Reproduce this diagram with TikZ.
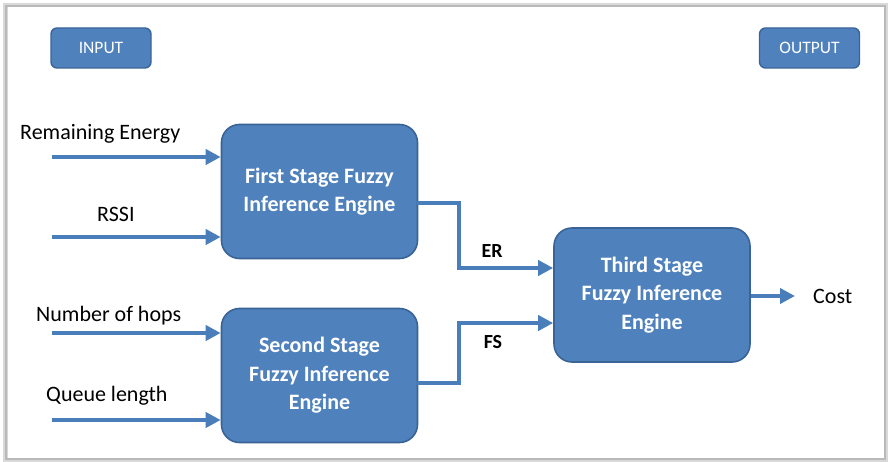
\documentclass[tikz,border=0pt]{standalone}
\usepackage{fontspec}
\setmainfont{Carlito}
\usetikzlibrary{arrows.meta}
\definecolor{boxfill}{HTML}{4F81BD}
\definecolor{boxedge}{HTML}{3A6496}
\definecolor{flow}{HTML}{4A7EBB}
\tikzset{
  engine/.style={draw=boxedge, line width=1.6pt, fill=boxfill, rounded corners=18pt,
    minimum width=196pt, minimum height=134pt, text=white, align=center,
    font=\fontsize{22}{28.5}\selectfont\bfseries},
  tag/.style={draw=boxedge, line width=1.4pt, fill=boxfill, rounded corners=6pt,
    minimum width=100pt, minimum height=40pt, text=white,
    font=\fontsize{17.5}{20}\selectfont},
  lbl/.style={font=\fontsize{22}{26}\selectfont, inner sep=0pt},
  sig/.style={font=\fontsize{20}{24}\selectfont\bfseries, inner sep=0pt},
  flowline/.style={draw=flow, line width=4.5pt, -{Triangle[length=15pt,width=15pt]}}
}
\begin{document}
\begin{tikzpicture}[x=1pt,y=-1pt]
\useasboundingbox (0,0) rectangle (888,462);
% page frame with soft shadow
\fill[white] (0,0) rectangle (888,462);
\draw[gray!30, line width=5.5pt] (5.5,5.5) rectangle (885.5,459.5);
\draw[gray!55, line width=2.5pt] (6,6) rectangle (885,459);
\fill[white] (7.5,7.5) rectangle (883.5,457.5);

% corner tags
\node[tag] (in) at (101,48) {INPUT};
\node[tag] (out) at (809.5,48) {OUTPUT};

% inference engines
\node[engine] (first) at (319.5,191.5) {First Stage Fuzzy\\Inference Engine};
\node[engine] (second) at (319.5,375.5) {Second Stage\\Fuzzy Inference\\Engine};
\node[engine] (third) at (652,295) {Third Stage\\Fuzzy Inference\\Engine};

% input signals
\coordinate (reS) at (52,157);
\coordinate (rsS) at (52,237);
\coordinate (hoS) at (52,333);
\coordinate (quS) at (52,420);
\draw[flowline] (reS) -- (reS -| first.west);
\draw[flowline] (rsS) -- (rsS -| first.west);
\draw[flowline] (hoS) -- (hoS -| second.west);
\draw[flowline] (quS) -- (quS -| second.west);

\node[lbl, anchor=west] (reL) at (20,134) {Remaining Energy};
\node[lbl, anchor=west] (rsL) at (97,214) {RSSI};
\node[lbl, anchor=west] (hoL) at (36,316) {Number of hops};
\node[lbl, anchor=west] (quL) at (46,396) {Queue length};

% intermediate outputs
\coordinate (erA) at (417,203);
\coordinate (erB) at (459,203);
\coordinate (erC) at (459,268);
\coordinate (fsA) at (417,383);
\coordinate (fsB) at (459,383);
\coordinate (fsC) at (459,323);
\draw[flowline] (erA) -- (erB) -- (erC) -- (erC -| third.west);
\draw[flowline] (fsA) -- (fsB) -- (fsC) -- (fsC -| third.west);
\node[sig] (er) at (492,251) {ER};
\node[sig] (fs) at (493,342) {FS};

% final output
\coordinate (costE) at (795,296);
\draw[flowline] (third.east |- costE) -- (costE);
\node[lbl, anchor=west] (cost) at (813,296) {Cost};
\end{tikzpicture}
\end{document}
